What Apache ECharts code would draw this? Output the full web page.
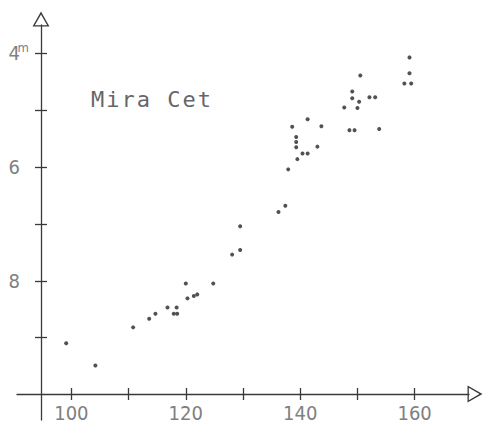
<!DOCTYPE html>
<html>
<head>
<meta charset="utf-8">
<title>Mira Cet</title>
<script src="https://cdn.jsdelivr.net/npm/echarts@6/dist/echarts.min.js"></script>
<style>
    html, body { margin: 0; padding: 0; background: #fff; }
    #chart { width: 483px; height: 424px; }
    /* typewriter label is spaced wider than the font itself */
    #chart text[style*="Mono"] { letter-spacing: 2px; }
</style>
</head>
<body>
<div id="chart"></div>
<script>
// days (x) and visual magnitude (y)
var days = [
    99.1, 104.2, 110.8, 113.6, 114.7, 116.8, 118.4, 117.9, 118.5, 120.3,
    121.4, 122.0, 120.0, 124.8, 128.1, 129.5, 129.5, 136.2, 137.4, 137.9,
    139.5, 140.4, 141.3, 143.0, 139.3, 139.3, 139.3, 138.6, 141.3, 143.7,
    148.6, 149.5, 153.8, 147.7, 150.0, 150.3, 149.1, 149.1, 150.5, 152.1,
    153.1, 158.2, 159.4, 159.1, 159.1
];
var magnitudes = [
    9.10, 9.49, 8.82, 8.67, 8.58, 8.47, 8.47, 8.58, 8.58, 8.31,
    8.27, 8.24, 8.05, 8.05, 7.54, 7.46, 7.04, 6.79, 6.68, 6.04,
    5.86, 5.76, 5.76, 5.64, 5.65, 5.56, 5.47, 5.29, 5.16, 5.28,
    5.35, 5.35, 5.33, 4.95, 4.96, 4.85, 4.79, 4.67, 4.39, 4.77,
    4.77, 4.53, 4.53, 4.35, 4.07
];
var xTicks = [100, 110, 120, 130, 140, 150, 160];
var xLabels = [100, 120, 140, 160];
var yTicks = [4, 5, 6, 7, 8, 9];
var yLabels = [4, 6, 8];
var starName = 'Mira Cet';

var lineColor = '#3a3a3a';
var labelColor = '#808080';
var labelFont = '"Liberation Sans Narrow", "DejaVu Sans Condensed", "Liberation Sans", sans-serif';
// hollow triangle, pointing up; inner path wound the other way to cut the hole
var hollowArrow = 'path://M0,0 L9,16 L-9,16 Z M0,3.2 L-6.6,14.6 L6.6,14.6 Z';

function initChart() {
    var chart = echarts.init(document.getElementById('chart'), null, { renderer: 'svg' });
    var points = days.map(function (d, i) {
        return [d, magnitudes[i]];
    });

    var tickStyle = { color: lineColor, width: 1.3 };
    // ticks only draw when the axis line is on, so the helper axes get an invisible one
    var hiddenLine = { show: true, onZero: false, lineStyle: { color: 'rgba(0,0,0,0)' } };
    var xBase = {
        type: 'value',
        min: 90.5,
        max: 169.5,
        position: 'bottom',
        splitLine: { show: false }
    };
    var yBase = {
        type: 'value',
        min: 3.5,
        max: 10.45,
        inverse: true,
        position: 'left',
        splitLine: { show: false }
    };

    var option = {
        animation: false,
        backgroundColor: '#fff',
        grid: {
            left: 17,
            top: 25,
            width: 452,
            height: 395,
            outerBoundsMode: 'none'
        },
        graphic: [{
            type: 'text',
            left: 91,
            top: 88,
            style: {
                text: starName,
                font: '22px "DejaVu Sans Mono", monospace',
                fill: '#666'
            }
        }],
        xAxis: [
            echarts.util.merge({
                offset: -26,
                axisLine: {
                    show: true,
                    onZero: false,
                    lineStyle: tickStyle,
                    symbol: ['none', hollowArrow],
                    symbolSize: [17, 15],
                    symbolOffset: [0, 6]
                },
                axisTick: { show: true, customValues: xTicks, length: 6, lineStyle: tickStyle },
                axisLabel: {
                    show: true,
                    customValues: xLabels,
                    margin: 12,
                    lineHeight: 14,
                    fontSize: 20,
                    fontFamily: labelFont,
                    color: labelColor
                }
            }, xBase, true),
            // helper 6px higher: upper half of each crossing tick
            echarts.util.merge({
                offset: -32,
                axisLine: hiddenLine,
                axisTick: { show: true, customValues: xTicks, length: 6, lineStyle: tickStyle },
                axisLabel: { show: false }
            }, xBase, true)
        ],
        yAxis: [
            echarts.util.merge({
                offset: -24,
                axisLine: {
                    show: true,
                    onZero: false,
                    lineStyle: tickStyle,
                    symbol: ['none', hollowArrow],
                    symbolSize: [17, 15],
                    symbolOffset: [0, 6]
                },
                axisTick: { show: true, customValues: yTicks, length: 6, lineStyle: tickStyle },
                axisLabel: {
                    show: true,
                    customValues: yLabels,
                    margin: 12,
                    fontSize: 20,
                    fontFamily: labelFont,
                    color: labelColor,
                    formatter: function (v) {
                        return v === 4 ? '4{sup|m}' : v + '{sp| }';
                    },
                    rich: {
                        sup: {
                            fontSize: 13,
                            fontFamily: labelFont,
                            color: labelColor,
                            width: 9,
                            verticalAlign: 'top',
                            padding: [0, 0, 12, 0]
                        },
                        sp: {
                            fontSize: 13,
                            width: 9
                        }
                    }
                }
            }, yBase, true),
            // helper 6px to the right: inner half of each crossing tick
            echarts.util.merge({
                offset: -30,
                axisLine: hiddenLine,
                axisTick: { show: true, customValues: yTicks, length: 6, lineStyle: tickStyle },
                axisLabel: { show: false }
            }, yBase, true)
        ],
        series: [{
            name: starName,
            type: 'scatter',
            xAxisIndex: 0,
            yAxisIndex: 0,
            symbol: 'circle',
            symbolSize: 4,
            itemStyle: { color: '#262626' },
            data: points
        }]
    };
    chart.setOption(option);
    return chart;
}

var chart = initChart();
</script>
</body>
</html>
